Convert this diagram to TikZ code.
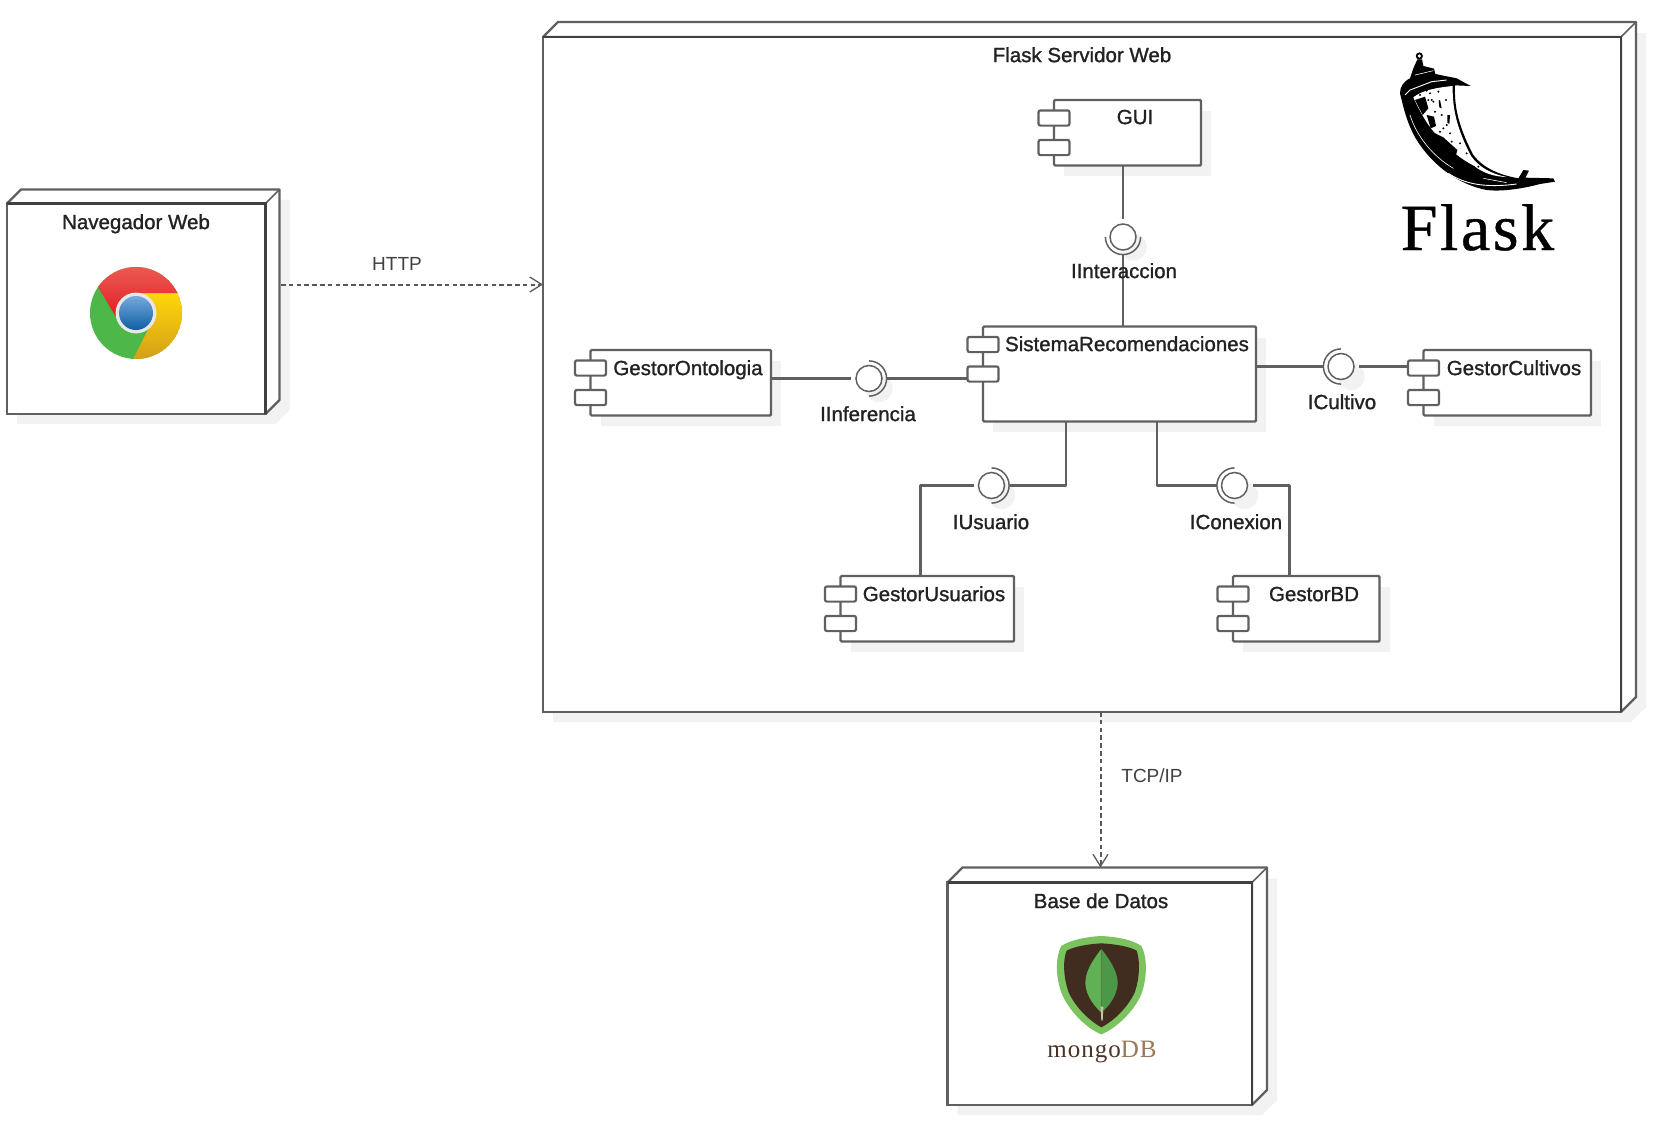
\documentclass[tikz,border=0pt]{standalone}
\usepackage{fontspec}
\setmainfont{Liberation Sans}
\newfontfamily\labfont{Liberation Sans}[FakeBold=1.2]
\newfontfamily\flaskfont{Liberation Serif}[LetterSpace=4,FakeBold=0.6]
\newfontfamily\mongofont{Liberation Serif}[LetterSpace=4]
\usetikzlibrary{arrows.meta,calc}
\definecolor{shad}{HTML}{F2F2F2}
\definecolor{linec}{HTML}{606060}
\definecolor{frontc}{HTML}{404040}
\definecolor{txtc}{HTML}{222222}
\tikzset{
  bodybox/.style={draw=linec,line width=1.2pt,fill=white,inner sep=0pt,outer sep=0pt,anchor=north west,rounded corners=0.6pt},
  portbox/.style={draw=linec,line width=1.1pt,fill=white,inner sep=0pt,outer sep=0pt,rounded corners=1pt,minimum width=15.5pt,minimum height=7.6pt},
  conn/.style={draw=linec,line width=1.2pt},
  depline/.style={draw=black!65,dash pattern=on 2.3pt off 1.6pt,line width=1pt},
  ball/.style={circle,draw=linec,line width=0.75pt,fill=white,inner sep=0pt,minimum size=13pt,outer sep=2.5pt},
  sock/.style={draw=linec,line width=0.75pt},
  namelab/.style={font=\labfont\fontsize{10.25pt}{12pt}\selectfont,text=txtc,inner sep=0pt,text height=.72em,text depth=.21em},
  deplab/.style={font=\fontsize{9.5pt}{11pt}\selectfont,text=black!75,inner sep=0pt,text height=.72em,text depth=.21em},
  barb/.style={-{Straight Barb[length=6pt,width=7.5pt,line width=0.65pt]}}
}
% name, x1, y1, x2, y2, depth
\newcommand{\depnode}[6]{%
  \fill[shad] (#2+10,#3+#6-4) -- (#4+#6+10,#3+#6-4-#6) -- (#4+#6+10,#5-#6+10) -- (#4+10,#5+10) -- (#2+10,#5+10) -- cycle;
  \draw[draw=linec,line width=1.2pt,line join=round,fill=white] (#2,#3) -- (#2+#6,#3-#6) -- (#4+#6,#3-#6) -- (#4+#6,#5-#6) -- (#4,#5) -- (#4,#3) -- cycle;
  \draw[draw=linec,line width=0.8pt] (#4,#3) -- (#4+#6,#3-#6);
  \node[draw=linec,line width=1.2pt,fill=white,inner sep=0pt,outer sep=0pt,anchor=north west,minimum width={(#4-#2)*0.5pt},minimum height={(#5-#3)*0.5pt}] (#1) at (#2,#3) {};
  \draw[draw=frontc,line width=1.3pt] (#2,#3) -- (#4,#3) -- (#4,#5);
}
% name, x1, y1, x2, y2, port-y1, port-y2
\newcommand{\compnode}[7]{%
  \fill[shad] (#2+10,#3+11) rectangle (#4+10,#5+10);
  \node[bodybox,minimum width={(#4-#2)*0.5pt},minimum height={(#5-#3)*0.5pt}] (#1) at (#2,#3) {};
  \node[portbox] (#1-p1) at (#2,#6) {};
  \node[portbox] (#1-p2) at (#2,#7) {};
}
% name, x, y, socket start angle
\newcommand{\iface}[4]{%
  \fill[shad] (#2+10,#3+10) circle[radius=6.8pt];
  \node[ball] (#1) at (#2,#3) {};
  \draw[sock] ([shift={(#4:8.8pt)}]#1.center) arc[start angle=#4,delta angle=180,radius=8.8pt];
}
\begin{document}
\begin{tikzpicture}[x=0.5pt,y=-0.5pt]
\useasboundingbox (0,0) rectangle (1654,1125);

% deployment nodes
\depnode{nav}{7}{203.5}{265.5}{414}{14}
\depnode{flask}{543}{37}{1621}{712}{15}
\depnode{db}{947.5}{882.5}{1252}{1105}{15}

% components
\compnode{gui}{1054}{100}{1201}{165.5}{118}{147.5}
\compnode{sis}{983}{326.5}{1256}{421.5}{344.5}{374}
\compnode{onto}{590.5}{350}{771}{415.5}{368}{397.5}
\compnode{cul}{1423.5}{350}{1591}{415.5}{368}{397.5}
\compnode{usr}{840.5}{576}{1014}{641.5}{594}{623.5}
\compnode{bd}{1233}{576}{1379.5}{641.5}{594}{623.5}

% interfaces
\iface{iint}{1123}{237}{180}
\iface{iinf}{869}{378.5}{-90}
\iface{icul}{1341}{366.5}{90}
\iface{ius}{991.5}{485.5}{-90}
\iface{icon}{1234.5}{485.5}{90}

% connectors
\coordinate (usa) at (1066,485.5);
\coordinate (usb) at (920.5,485.5);
\coordinate (cona) at (1157,485.5);
\coordinate (conb) at (1289.5,485.5);
\draw[conn] (gui.south -| iint) -- (iint.north);
\draw[conn] (iint.south) -- (sis.north -| iint);
\draw[conn] (onto.east |- iinf) -- (iinf.west);
\draw[conn] (iinf.east) -- (sis-p2.west |- iinf);
\draw[conn] (sis.east |- icul) -- (icul.west);
\draw[conn] (icul.east) -- (cul-p1.west |- icul);
\draw[conn,line join=round] (sis.south -| usa) -- (usa) -- (ius.east);
\draw[conn,line join=round] (usr.north -| usb) -- (usb) -- (ius.west);
\draw[conn,line join=round] (sis.south -| cona) -- (cona) -- (icon.west);
\draw[conn,line join=round] (bd.north -| conb) -- (conb) -- (icon.east);

\coordinate (navedge) at (281,284.5);
\coordinate (dbedge) at (1100.5,867.5);
\draw[depline,barb] (navedge) -- (flask.west |- navedge);
\draw[depline,barb] (flask.south -| dbedge) -- (dbedge);

% labels
\node[namelab] (lnav) at (136,224) {Navegador Web};
\node[namelab] (lflask) at (1082,57) {Flask Servidor Web};
\node[namelab] (ldb) at (1101,903) {Base de Datos};
\node[namelab] (lgui) at (1135,119) {GUI};
\node[namelab] (lsis) at (1127,346) {SistemaRecomendaciones};
\node[namelab] (lonto) at (688,370) {GestorOntologia};
\node[namelab] (lcul) at (1514,370) {GestorCultivos};
\node[namelab] (lusr) at (934,596) {GestorUsuarios};
\node[namelab] (lbd) at (1314,596) {GestorBD};
\node[namelab] (liint) at (1124,273) {IInteraccion};
\node[namelab] (liinf) at (868,416) {IInferencia};
\node[namelab] (licul) at (1342,404) {ICultivo};
\node[namelab] (lius) at (991,524) {IUsuario};
\node[namelab] (licon) at (1236,524) {IConexion};
\node[deplab] (lhttp) at (397,265) {HTTP};
\node[deplab] (ltcp) at (1152,777) {TCP/IP};

% Chrome logo
\begin{scope}[shift={(136,313)}]
  \clip (0,0) circle[radius=23pt];
  \fill[color={rgb,255:red,77;green,183;blue,73}] (0,0) circle[radius=23pt];
  \shade[top color={rgb,255:red,255;green,214;blue,10},middle color={rgb,255:red,254;green,208;blue,10},bottom color={rgb,255:red,196;green,140;blue,30}] (0,-20) -- (60,-20) -- (60,70) -- (-15,70) -- (20,1) -- cycle;
  \shade[top color={rgb,255:red,240;green,100;blue,88},bottom color={rgb,255:red,222;green,32;blue,38}] (-20,4) -- (-56,-56) -- (60,-56) -- (60,-20) -- (0,-20) -- cycle;
  \fill[color={rgb,255:red,232;green,232;blue,232}] (0,0) circle[radius=10.2pt];
  \shade[top color={rgb,255:red,118;green,170;blue,220},bottom color={rgb,255:red,14;green,94;blue,163}] (0,0) circle[radius=8.5pt];
\end{scope}

% Flask horn
\begin{scope}[shift={(1360,0)},x=0.16667pt,y=-0.16667pt]
  \fill[black] (178,168) circle[radius=1.8pt];
  \fill[white] (178,168) circle[radius=0.9pt];
  \fill[black] (172,178) -- (186,178) -- (190,198) -- (222,206) -- (226,222) -- (290,235) -- (332,258) -- (285,256)
    .. controls (283,310) and (290,370) .. (340,465)
    .. controls (370,505) and (420,525) .. (475,535)
    -- (490,510) -- (507,512) -- (496,533) -- (580,535) -- (585,545) -- (540,552)
    .. controls (480,568) and (420,575) .. (380,570)
    .. controls (300,555) and (220,500) .. (170,420)
    .. controls (140,370) and (130,320) .. (120,280)
    .. controls (120,260) and (130,245) .. (150,235)
    -- (160,205) -- cycle;
  % pale interior
  \fill[white] (160,292) .. controls (190,268) and (240,262) .. (278,258)
    .. controls (277,320) and (287,380) .. (333,468)
    .. controls (358,503) and (395,522) .. (440,531)
    .. controls (400,530) and (370,518) .. (345,500)
    .. controls (300,475) and (255,440) .. (225,400)
    .. controls (195,365) and (175,325) .. (160,292) -- cycle;
  % mottling
  \fill[black] (165,300) -- (195,290) -- (205,325) -- (188,345) -- cycle;
  \fill[black] (200,345) -- (222,350) -- (228,378) -- (212,385) -- cycle;
  \fill[black] (262,345) -- (270,345) -- (268,372) -- (262,368) -- cycle;
  \fill[black] (222,398) -- (250,412) -- (292,450) -- (288,465) -- (250,445) -- cycle;
  \fill[black] (236,302) -- (240,300) -- (245,325) -- (238,322) -- cycle;
  \fill[black] (312,482) -- (345,500) -- (340,510) -- (310,495) -- cycle;
  \foreach \dx/\dy in {180/285,210/280,235/275,220/305,245/345,250/385,225/335,270/400,300/430,320/460,215/300,258/300,205/300,290/470,275/425,240/395,355/500,260/375,200/272}
    \fill[black] (\dx,\dy) circle[radius=0.55pt];
  % pale streaks on the dark side
  \draw[white,line width=0.45pt] (135,285) -- (150,270) -- (215,245) -- (260,240);
  \draw[white,line width=0.45pt] (265,520) .. controls (310,550) and (370,565) .. (470,552);
  \draw[white,line width=0.3pt] (150,345) .. controls (170,410) and (220,470) .. (280,505);
  \draw[white,line width=0.3pt] (370,535) -- (440,548);
  \draw[white,line width=0.3pt] (165,225) -- (220,212);
\end{scope}
\node[font=\flaskfont\fontsize{33pt}{36pt}\selectfont,inner sep=0pt,anchor=base,text=black] (lflasklogo) at (1477.5,250) {Flask};

% MongoDB logo
\begin{scope}[shift={(940,860)},x=0.16667pt,y=-0.16667pt]
  \fill[color={rgb,255:red,122;green,195;blue,95}] (484,228) .. controls (530,230) and (580,240) .. (604,258)
    .. controls (622,290) and (622,350) .. (605,400)
    .. controls (585,450) and (530,505) .. (484,523)
    .. controls (438,505) and (385,450) .. (365,400)
    .. controls (346,350) and (346,290) .. (364,258)
    .. controls (390,240) and (440,230) .. (484,228) -- cycle;
  \fill[color={rgb,255:red,65;green,45;blue,32}] (484,250) .. controls (525,252) and (570,260) .. (590,272)
    .. controls (600,300) and (600,350) .. (585,395)
    .. controls (565,440) and (525,480) .. (484,502)
    .. controls (445,480) and (405,440) .. (385,395)
    .. controls (370,350) and (368,300) .. (380,272)
    .. controls (400,260) and (445,252) .. (484,250) -- cycle;
  \fill[color={rgb,255:red,96;green,176;blue,84}] (484,267) .. controls (450,310) and (436,340) .. (436,370)
    .. controls (438,410) and (465,440) .. (484,458) -- cycle;
  \fill[color={rgb,255:red,76;green,152;blue,72}] (484,267) .. controls (518,310) and (533,340) .. (533,370)
    .. controls (531,410) and (505,440) .. (484,458) -- cycle;
  \fill[color={rgb,255:red,200;green,192;blue,168}] (482,440) -- (490,440) -- (488,482) -- (484,482) -- cycle;
\end{scope}
\node[font=\mongofont\fontsize{12.5pt}{14pt}\selectfont,inner sep=0pt,anchor=base] (lmongo) at (1102,1057) {\textcolor[HTML]{4A3428}{mongo}\textcolor[HTML]{96785A}{DB}};
\end{tikzpicture}
\end{document}
